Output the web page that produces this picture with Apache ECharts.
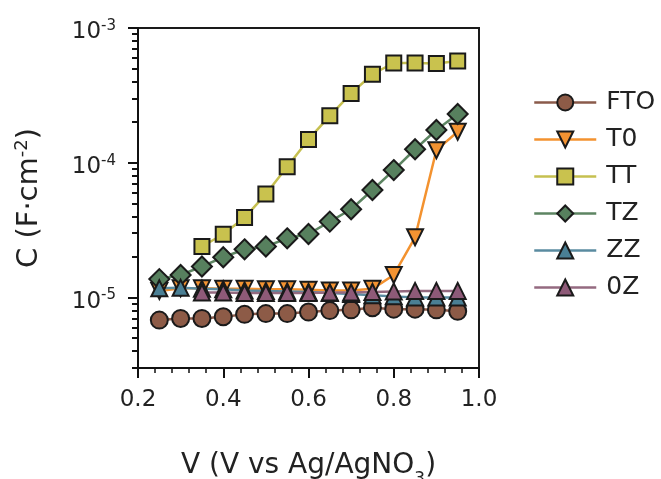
<!DOCTYPE html>
<html>
<head>
<meta charset="utf-8">
<script src="https://cdn.jsdelivr.net/npm/echarts@6/dist/echarts.min.js"></script>
<style>html,body{margin:0;padding:0;background:#fff}#c{width:661px;height:479px}</style>
</head>
<body>
<div id="c"></div>
<script>
// Data
const voltages = [0.25, 0.30, 0.35, 0.40, 0.45, 0.50, 0.55, 0.60, 0.65, 0.70, 0.75, 0.80, 0.85, 0.90, 0.95];
const seriesNames = ['FTO', 'T0', 'TT', 'TZ', 'ZZ', '0Z'];
const FTO = [6.8e-6, 7.0e-6, 7.0e-6, 7.2e-6, 7.5e-6, 7.6e-6, 7.6e-6, 7.8e-6, 8.0e-6, 8.1e-6, 8.4e-6, 8.2e-6, 8.2e-6, 8.1e-6, 7.9e-6];
const T0  = [1.12e-5, 1.17e-5, 1.17e-5, 1.16e-5, 1.16e-5, 1.15e-5, 1.15e-5, 1.14e-5, 1.13e-5, 1.13e-5, 1.16e-5, 1.47e-5, 2.8e-5, 1.24e-4, 1.70e-4];
const TT  = [null, null, 2.39e-5, 2.95e-5, 3.92e-5, 5.86e-5, 9.34e-5, 1.49e-4, 2.23e-4, 3.27e-4, 4.54e-4, 5.5e-4, 5.5e-4, 5.45e-4, 5.7e-4];
const TZ  = [1.37e-5, 1.47e-5, 1.70e-5, 1.99e-5, 2.28e-5, 2.39e-5, 2.75e-5, 2.96e-5, 3.66e-5, 4.52e-5, 6.28e-5, 8.83e-5, 1.26e-4, 1.75e-4, 2.30e-4];
const ZZ  = [1.17e-5, 1.18e-5, 1.16e-5, 1.15e-5, 1.13e-5, 1.12e-5, 1.11e-5, 1.10e-5, 1.08e-5, 1.06e-5, 1.04e-5, 1.02e-5, 1.0e-5, 1.0e-5, 1.0e-5];
const Z0  = [null, null, 1.09e-5, 1.09e-5, 1.08e-5, 1.08e-5, 1.08e-5, 1.08e-5, 1.09e-5, 1.09e-5, 1.10e-5, 1.11e-5, 1.12e-5, 1.12e-5, 1.12e-5];
const xTicks = [0.2, 0.4, 0.6, 0.8, 1.0];
const yMajorTicks = [1e-5, 1e-4, 1e-3];
const yMinorTicks = [3e-6, 4e-6, 5e-6, 6e-6, 7e-6, 8e-6, 9e-6,
                     2e-5, 3e-5, 4e-5, 5e-5, 6e-5, 7e-5, 8e-5, 9e-5,
                     2e-4, 3e-4, 4e-4, 5e-4, 6e-4, 7e-4, 8e-4, 9e-4];

const allValues = [FTO, T0, TT, TZ, ZZ, Z0];
const styles = [
  {symbol: 'circle',   size: 17, rotate: 0,   fill: '#8d5b47', line: '#8a5a4a'},
  {symbol: 'triangle', size: 16, rotate: 180, fill: '#f39332', line: '#f3922f'},
  {symbol: 'rect',     size: 15, rotate: 0,   fill: '#c9c24e', line: '#c6c050'},
  {symbol: 'diamond',  size: 20, rotate: 0,   fill: '#57805e', line: '#5d8562'},
  {symbol: 'triangle', size: 16, rotate: 0,   fill: '#4a7f94', line: '#5a8ba0'},
  {symbol: 'triangle', size: 16, rotate: 0,   fill: '#8e5a78', line: '#946a80'}
];
const FONT = 'DejaVu Sans';

const series = seriesNames.map((name, k) => ({
  name: name,
  type: 'line',
  data: voltages.map((v, i) => [v, allValues[k][i]]).filter(p => p[1] !== null),
  symbol: styles[k].symbol,
  symbolSize: styles[k].size,
  symbolRotate: styles[k].rotate,
  showAllSymbol: true,
  lineStyle: {color: styles[k].line, width: 2.5},
  itemStyle: {color: styles[k].fill, borderColor: '#1a1a1a', borderWidth: 2},
  emphasis: {disabled: true},
  animation: false,
  clip: false
}));

const chart = echarts.init(document.getElementById('c'), null, {renderer: 'canvas'});
chart.setOption({
  animation: false,
  backgroundColor: '#fff',
  grid: {left: 138, right: 182, top: 28, bottom: 111, outerBoundsMode: 'none', containLabel: false,
         show: true, borderColor: '#1a1a1a', borderWidth: 2, backgroundColor: 'transparent'},
  legend: {
    orient: 'vertical', left: 533, top: 90, padding: 0, align: 'left',
    itemWidth: 62, itemHeight: 20, itemGap: 12,
    data: seriesNames,
    lineStyle: {width: 2.5},
    itemStyle: {borderWidth: 2, borderColor: '#1a1a1a'},
    textStyle: {fontFamily: FONT, fontSize: 25, color: '#222', padding: [0, 0, 0, 5]},
    selectedMode: false
  },
  xAxis: {
    type: 'value', min: 0.2, max: 1.0, interval: 0.2,
    name: '{n|V (V vs Ag/AgNO}{sub|3}{n|)}',
    nameLocation: 'middle', nameGap: 82,
    nameTextStyle: {rich: {
      n: {fontFamily: FONT, fontSize: 28, color: '#222', lineHeight: 32},
      sub: {fontFamily: FONT, fontSize: 17, color: '#222', lineHeight: 17, verticalAlign: 'bottom', padding: [0, 0, -6, 0]}
    }},
    axisLine: {lineStyle: {color: '#111', width: 2}},
    axisTick: {inside: false, length: 10, lineStyle: {color: '#111', width: 2}},
    minorTick: {show: true, splitNumber: 5, length: 5, lineStyle: {color: '#111', width: 1.5}},
    axisLabel: {fontFamily: FONT, fontSize: 23, color: '#222', margin: 21, formatter: v => v.toFixed(1)},
    splitLine: {show: false}
  },
  yAxis: [{
    type: 'log', logBase: 10, min: 3e-6, max: 1e-3, position: 'left',
    name: '{n|C (F·cm}{sup|-2}{n|)}',
    nameLocation: 'middle', nameGap: 92, nameRotate: 90,
    nameTextStyle: {rich: {
      n: {fontFamily: FONT, fontSize: 29, color: '#222', lineHeight: 33},
      sup: {fontFamily: FONT, fontSize: 18, color: '#222', lineHeight: 18, verticalAlign: 'top'}
    }},
    axisLine: {show: true, lineStyle: {color: '#111', width: 2}},
    axisTick: {show: true, inside: false, length: 10, lineStyle: {color: '#111', width: 2}, customValues: yMajorTicks},
    axisLabel: {
      customValues: yMajorTicks, margin: 22, padding: [8, 0, 0, 0],
      formatter: v => '{b|10}{s|' + Math.round(Math.log10(v)) + '}',
      rich: {
        b: {fontFamily: FONT, fontSize: 23, color: '#222', lineHeight: 27},
        s: {fontFamily: FONT, fontSize: 15, color: '#222', lineHeight: 15, verticalAlign: 'top'}
      }
    },
    splitLine: {show: false}
  }, {
    type: 'log', logBase: 10, min: 3e-6, max: 1e-3, position: 'left', offset: 0,
    axisLine: {show: false},
    axisTick: {show: true, inside: false, length: 6, lineStyle: {color: '#111', width: 2}, customValues: yMinorTicks},
    axisLabel: {show: false},
    splitLine: {show: false}
  }],
  series: series
});
</script>
</body>
</html>
